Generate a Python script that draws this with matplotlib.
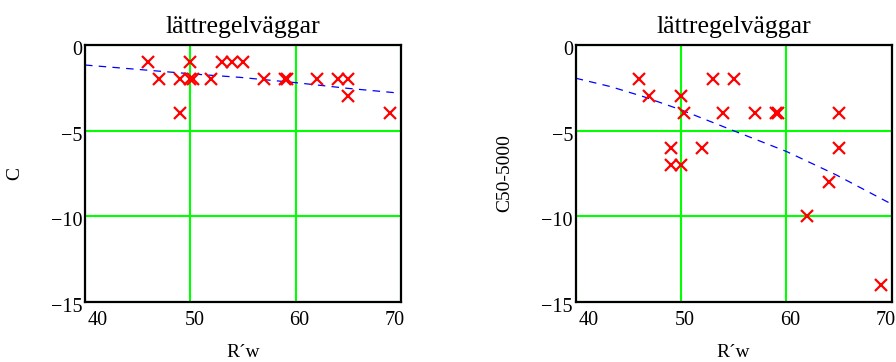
"""
Two scatter plots of C and C50-5000 against R'w for lightweight stud walls,
with the dashed trend lines, in the style of the original Mathcad plots.
"""
import matplotlib
matplotlib.use("Agg")
import matplotlib.pyplot as plt
import matplotlib.transforms as mtransforms

# Measured walls: R'w and the two spectrum adaptation terms
rw = [46, 47, 49, 49, 50, 50, 50.3, 52, 53, 54, 55, 57, 59, 59.2, 62, 64, 65, 65, 69]
c = [-1, -2, -2, -4, -1, -2, -2, -2, -1, -1, -1, -2, -2, -2, -2, -2, -2, -3, -4]
c50 = [-2, -3, -6, -7, -3, -7, -4, -6, -2, -4, -2, -4, -4, -4, -10, -8, -4, -6, -14]

# Trend lines
fit_x_c = [40, 44.9, 50.2, 54.7, 60, 64.9, 70]
fit_c = [-1.17, -1.42, -1.69, -1.89, -2.2, -2.53, -2.82]
fit_x_c50 = [40, 43.3, 46.4, 50, 55.2, 60, 64.7, 70]
fit_c50 = [-1.94, -2.43, -3.01, -3.79, -5.06, -6.22, -7.58, -9.3]

title = "lättregelväggar"
xlabel = "R\u00b4w"
ylabels = ["C", "C50-5000"]
xticks = [40, 50, 60, 70]
yticks = [0, -5, -10, -15]

plt.rcParams["font.family"] = ["Liberation Serif", "DejaVu Serif"]

fig = plt.figure(figsize=(8.96, 3.62), dpi=100)
ax1 = fig.add_axes([85 / 896, 60.3 / 362, 316 / 896, 256.7 / 362])
ax2 = fig.add_axes([575.7 / 896, 60.3 / 362, 316 / 896, 256.7 / 362])

# pixel offsets for tick labels, Mathcad keeps end labels inside the frame
x_shift = [13, 4, 4, -6]

for ax, yvals, fx, fy, ylab in [(ax1, c, fit_x_c, fit_c, ylabels[0]),
                                (ax2, c50, fit_x_c50, fit_c50, ylabels[1])]:
    ax.plot(rw, yvals, linestyle="none", marker="x", color="#ff0000",
            markersize=8.5, markeredgewidth=1.6, zorder=4)
    ax.plot(fx, fy, color="#0000ff", linewidth=0.9, dashes=(6, 5), zorder=3)

    ax.set_xlim(40, 70)
    ax.set_ylim(-15, 0)
    ax.set_xticks(xticks)
    ax.set_yticks(yticks)
    ax.grid(True, color="#00ff00", linewidth=1.5, zorder=1)
    ax.set_axisbelow(True)
    for s in ax.spines.values():
        s.set_color("black")
        s.set_linewidth(1.6)
        s.set_zorder(5)
    ax.tick_params(length=0, labelsize=14.5, colors="black")
    ax.tick_params(axis="x", pad=7)
    ax.tick_params(axis="y", pad=2)

    ax.set_title(title, fontsize=18.5, pad=9)
    ax.set_xlabel(xlabel, fontsize=14, labelpad=10)
    ax.set_ylabel(ylab, fontsize=14, labelpad=20)

    for lab, dx in zip(ax.get_xticklabels(), x_shift):
        off = mtransforms.ScaledTranslation(dx / 100, 0, fig.dpi_scale_trans)
        lab.set_transform(lab.get_transform() + off)
    for lab in ax.get_yticklabels():
        off = mtransforms.ScaledTranslation(0, -3 / 100, fig.dpi_scale_trans)
        lab.set_transform(lab.get_transform() + off)

fig.savefig("out.png", dpi=100)
